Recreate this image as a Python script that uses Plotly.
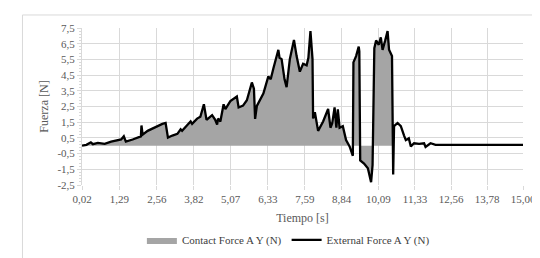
import plotly.graph_objects as go

# Time [s]
tiempo = [0.02, 0.17, 0.32, 0.39, 0.56, 0.79, 1.01, 1.23, 1.35, 1.44,
          1.51, 1.74, 1.91, 2.02, 2.04, 2.08, 2.25, 2.47, 2.58, 2.75,
          2.86, 2.94, 3.09, 3.26, 3.37, 3.42, 3.59, 3.71, 3.76, 3.93,
          4.04, 4.16, 4.25, 4.44, 4.54, 4.61, 4.64, 4.72, 4.83, 4.89,
          5.06, 5.28, 5.34, 5.49, 5.62, 5.79, 5.86, 5.90, 5.96, 6.18,
          6.35, 6.43, 6.52, 6.69, 6.73, 6.80, 6.90, 6.97, 7.08, 7.22,
          7.31, 7.42, 7.53, 7.65, 7.71, 7.78, 7.85, 7.87, 7.93, 8.04,
          8.21, 8.38, 8.46, 8.52, 8.60, 8.66, 8.71, 8.77, 8.88, 8.99,
          9.11, 9.22, 9.24, 9.33, 9.42, 9.44, 9.47, 9.60, 9.73, 9.84,
          9.89, 9.95, 10.01, 10.10, 10.17, 10.23, 10.32, 10.40, 10.45, 10.55,
          10.59, 10.62, 10.74, 10.85, 10.96, 11.02, 11.12, 11.19, 11.30, 11.47,
          11.64, 11.69, 11.86, 12.03, 15.00]

# External Force A Y (N)
external_force = [0.00, 0.06, 0.22, 0.10, 0.18, 0.12, 0.26, 0.36, 0.40, 0.60,
                  0.26, 0.40, 0.54, 0.60, 1.29, 0.71, 0.95, 1.15, 1.22, 1.39,
                  1.45, 0.52, 0.65, 0.76, 1.05, 0.95, 1.31, 1.55, 1.40, 1.73,
                  1.85, 2.64, 1.65, 1.95, 1.67, 1.35, 1.73, 1.55, 2.64, 2.34,
                  2.84, 3.14, 2.44, 2.56, 2.90, 4.03, 3.63, 1.71, 2.54, 3.33,
                  4.42, 4.23, 4.92, 6.11, 5.60, 5.52, 4.23, 3.73, 5.52, 6.74,
                  5.71, 4.72, 5.22, 5.12, 5.60, 7.30, 5.52, 1.74, 2.14, 0.95,
                  1.55, 2.34, 1.15, 1.43, 2.44, 1.15, 2.32, 1.15, 1.25, 0.36,
                  -0.04, -0.64, 5.31, 5.71, 6.31, 6.01, -0.93, -1.13, -1.43, -2.32,
                  -1.23, 6.21, 6.71, 6.43, 6.90, 6.11, 6.71, 7.30, 6.11, 5.71,
                  -1.83, 1.25, 1.45, 1.25, 0.65, 0.36, 0.48, -0.04, 0.16, 0.12,
                  0.16, -0.08, 0.16, 0.06, 0.06]

# Contact Force A Y (N)
contact_force = [0.00, 0.06, 0.22, 0.10, 0.18, 0.12, 0.26, 0.36, 0.40, 0.60,
                 0.26, 0.40, 0.54, 0.60, 1.29, 0.71, 0.95, 1.15, 1.22, 1.39,
                 1.45, 0.52, 0.65, 0.76, 1.05, 0.95, 1.31, 1.55, 1.40, 1.73,
                 1.85, 2.64, 1.65, 1.95, 1.67, 1.35, 1.73, 1.55, 2.64, 2.34,
                 2.84, 3.14, 2.44, 2.56, 2.90, 4.03, 3.63, 1.71, 2.54, 3.33,
                 4.42, 4.23, 4.92, 6.11, 5.60, 5.52, 4.23, 3.73, 5.52, 6.74,
                 5.71, 4.72, 5.22, 5.12, 5.60, 7.30, 5.52, 1.74, 2.14, 0.95,
                 1.55, 2.34, 1.15, 1.43, 2.44, 1.15, 2.32, 1.15, 1.25, 0.36,
                 0.00, 0.00, 5.31, 5.71, 6.31, 6.01, -0.93, -1.13, -1.43, -2.32,
                 -1.23, 6.21, 6.71, 6.43, 6.90, 6.11, 6.71, 7.30, 6.11, 5.71,
                 0.00, 0.00, 0.00, 0.00, 0.00, 0.00, 0.00, 0.00, 0.00, 0.00,
                 0.00, 0.00, 0.00, 0.00, 0.00]

x_ticks = [0.02, 1.29, 2.56, 3.82, 5.07, 6.33, 7.59, 8.84, 10.09, 11.33, 12.56, 13.78, 15.00]
x_tick_labels = ["0,02", "1,29", "2,56", "3,82", "5,07", "6,33", "7,59", "8,84",
                 "10,09", "11,33", "12,56", "13,78", "15,00"]
y_ticks = [-2.5, -1.5, -0.5, 0.5, 1.5, 2.5, 3.5, 4.5, 5.5, 6.5, 7.5]
y_tick_labels = ["-2,5", "-1,5", "-0,5", "0,5", "1,5", "2,5", "3,5", "4,5", "5,5", "6,5", "7,5"]

FONT = "Liberation Serif"
TXT = "#595959"
GRID = "#D9D9D9"

fig = go.Figure()
fig.add_trace(go.Scatter(
    x=tiempo, y=contact_force, name="Contact Force A Y (N)",
    mode="lines", line=dict(width=0, color="#A5A5A5"),
    fill="tozeroy", fillcolor="#A5A5A5",
))
fig.add_trace(go.Scatter(
    x=tiempo, y=external_force, name="External Force A Y (N)",
    mode="lines", line=dict(width=2.3, color="#000000"),
))

fig.update_layout(
    width=540, height=258,
    margin=dict(l=74, r=22, t=20, b=70),
    paper_bgcolor="white", plot_bgcolor="white",
    font=dict(family=FONT, size=11, color=TXT),
    showlegend=True,
    legend=dict(orientation="h", x=0.468, xanchor="center", y=-0.35, yanchor="middle",
                font=dict(family=FONT, size=11, color="#404040"),
                itemwidth=30, tracegroupgap=0),
    shapes=[dict(type="rect", xref="paper", yref="paper",
                 x0=-0.135, x1=1.08, y0=-0.5, y1=1.083,
                 line=dict(color="#D9D9D9", width=1), fillcolor="rgba(0,0,0,0)",
                 layer="below")],
)
fig.update_xaxes(
    range=[0.02, 15.0], tickmode="array", tickvals=x_ticks, ticktext=x_tick_labels,
    showgrid=True, gridcolor=GRID, gridwidth=1, zeroline=False, showline=False,
    ticks="outside", ticklen=4, tickcolor=GRID, ticklabeloverflow="allow",
    tickfont=dict(family=FONT, size=11, color=TXT),
    title=dict(text="Tiempo [s]", font=dict(family=FONT, size=12, color=TXT), standoff=9),
)
fig.update_yaxes(
    range=[-2.5, 7.5], tickmode="array", tickvals=y_ticks, ticktext=y_tick_labels,
    showgrid=True, gridcolor=GRID, gridwidth=1, zeroline=False,
    showline=True, linecolor=GRID, linewidth=1,
    ticks="outside", ticklen=4, tickcolor=GRID,
    minor=dict(ticks="outside", ticklen=2, tickcolor=GRID, dtick=0.2, tick0=-2.5, showgrid=False),
    tickfont=dict(family=FONT, size=11, color=TXT),
    title=dict(text="Fuerza [N]", font=dict(family=FONT, size=12, color=TXT), standoff=6),
)

fig.write_html("out.html")
